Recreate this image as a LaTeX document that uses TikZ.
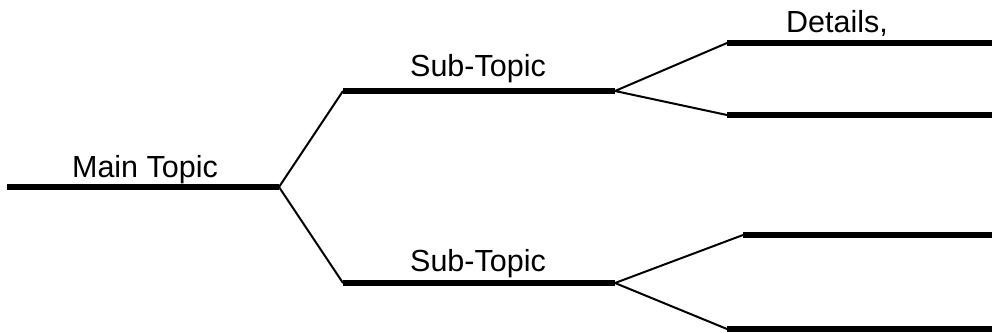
\documentclass[tikz,border=0pt]{standalone}
\usepackage{fontspec}
\setmainfont{Liberation Sans}
\begin{document}
\begin{tikzpicture}[x=1pt,y=-1pt,
  bar/.style={line width=6pt},
  twig/.style={line width=2pt},
  lbl/.style={anchor=base,inner sep=0pt,font=\fontsize{30.5}{36}\selectfont}]
\useasboundingbox (0,0) rectangle (992,332);
% main topic
\coordinate (m0) at (7,187);
\coordinate (m1) at (279,187);
% sub-topics
\coordinate (a0) at (343,91);
\coordinate (a1) at (615,91);
\coordinate (b0) at (343,283);
\coordinate (b1) at (615,283);
% details
\coordinate (d1s) at (727,43);  \coordinate (d1e) at (992,43);
\coordinate (d2s) at (727,115); \coordinate (d2e) at (992,115);
\coordinate (d3s) at (743,235); \coordinate (d3e) at (992,235);
\coordinate (d4s) at (727,329); \coordinate (d4e) at (992,329);

\draw[bar] (m0) -- (m1);
\draw[bar] (a0) -- (a1);
\draw[bar] (b0) -- (b1);
\draw[bar] (d1s) -- (d1e);
\draw[bar] (d2s) -- (d2e);
\draw[bar] (d3s) -- (d3e);
\draw[bar] (d4s) -- (d4e);

\draw[twig,line join=miter] (a0) -- (m1) -- (b0);
\draw[twig] (d1s) -- (a1) -- (d2s);
\draw[twig] (d3s) -- (b1) -- (d4s);

\node[lbl] (tmain) at (145,177) {Main Topic};
\node[lbl] (tsubA) at (478,76) {Sub-Topic};
\node[lbl] (tsubB) at (478,271) {Sub-Topic};
\node[lbl] (tdet) at (837,32) {Details,};
\end{tikzpicture}
\end{document}
